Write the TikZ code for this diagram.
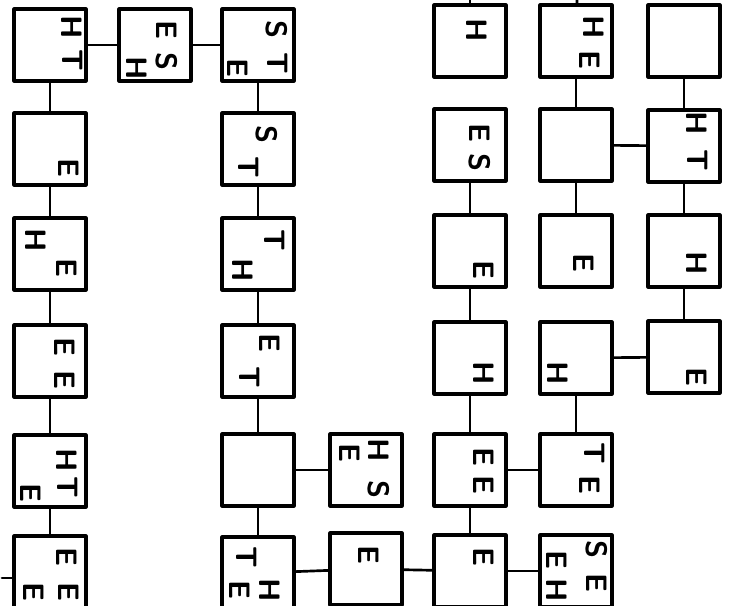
\documentclass[tikz,border=0pt]{standalone}
\usepackage{tikz}
\usetikzlibrary{calc}

\begin{document}
\begin{tikzpicture}[x=0.025cm,y=-0.025cm,line cap=round,line join=round,
  cell/.style={draw,line width=2.2pt,minimum size=1.8cm,inner sep=0pt,outer sep=0pt},
  link/.style={line width=1.9pt},
  glyph/.style={xshift=-2pt,rotate=-90,inner sep=0pt,font=\fontsize{21}{21}\selectfont\sffamily\bfseries}]
  \useasboundingbox (0,0) rectangle (742,605);
  % boxes
  \foreach \n/\x/\y in {a1/50/45,a2/50/149,a3/50/254,a4/50/361,a5/50/471,a6/50/572,
    b1/155/45,c1/258/45,c2/258/149,c3/258/254,c4/258/361,c5/258/470,c6/258/573,
    m5/366/470,m6/366/569,
    d1/470/41,d2/470/145,d3/470/251,d4/470/358,d5/470/470,d6/470/571,
    e1/576/41,e2/576/145,e3/576/251,e4/576/358,e5/576/470,e6/576/571,
    f1/684/41,f2/684/146,f3/684/251,f4/684/357}
    {\node[cell] (\n) at (\x,\y) {};}
  % free ends
  \coordinate (dtop) at (470,0);\coordinate (etop) at (577,0);\coordinate (aleft) at (2,578);
  % links
  \foreach \p/\q in {a1/a2,a2/a3,a3/a4,a4/a5,a5/a6,a1/b1,b1/c1,
    c1/c2,c2/c3,c3/c4,c4/c5,c5/c6,c5/m5,c6/m6,m6/d6,
    d2/d3,d3/d4,d4/d5,d5/d6,d5/e5,d6/e6,
    e1/e2,e2/e3,e2/f2,e4/e5,e4/f4,f1/f2,f2/f3,f3/f4}
    {\draw[link] (\p) -- (\q);}
  \draw[link] (d1) -- (dtop);\draw[link] (e1) -- (etop);\draw[link] (a6.west|-aleft) -- (aleft);
  % letters
  \foreach \x/\y/\t [count=\i] in {75/27/H,75/60/T,72/168/E,39/240/H,70/268/E,68/347/E,68/380/E,
    70/460/H,70/487/T,34/493/E,70/557/E,72/592/E,37/592/E,
    170/30/E,170/62/S,140/68/H,
    280/30/S,280/63/T,241/68/E,270/135/S,251/167/T,277/240/T,246/270/H,273/343/E,252/377/T,
    249/557/T,243/590/E,273/590/H,
    382/450/H,382/490/S,353/453/E,372/555/E,
    480/30/H,483/133/E,483/163/S,487/270/E,487/373/H,487/457/E,487/485/E,487/557/E,
    597/27/H,593/60/E,587/263/E,561/373/H,597/453/T,593/485/E,
    600/550/S,600/583/E,560/560/E,560/590/H,
    700/123/H,700/160/T,700/263/H,700/377/E}
    {\node[glyph] (g\i) at (\x,\y) {\t};}
\end{tikzpicture}
\end{document}
